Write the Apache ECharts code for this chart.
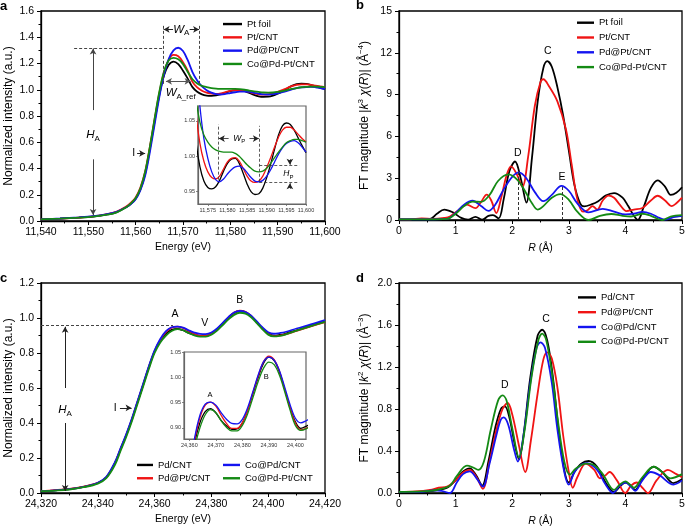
<!DOCTYPE html>
<html><head><meta charset="utf-8">
<script src="https://cdn.jsdelivr.net/npm/echarts/dist/echarts.min.js"></script>
<style>html,body{margin:0;padding:0;background:#fff}#c{width:685px;height:529px}</style>
</head><body><div id="c"></div>
<script>
// ---------- Panel a: Pt L3 XANES ----------
const energyA = [11540,11544,11548,11551,11554,11556,11558,11559,11560,11561,11562,11563,11564,11565,11566,11567,11568,11569,11570,11571,11572,11573,11574,11575,11576,11577,11578,11579,11580,11581,11582,11583,11584,11585,11586,11587,11588,11589,11590,11591,11592,11593,11594,11595,11596,11597,11598,11599,11600];
const aPtFoil = [.012,.018,.026,.034,.05,.068,.105,.13,.17,.24,.36,.55,.76,.96,1.11,1.19,1.215,1.195,1.145,1.085,1.02,.985,.965,.956,.954,.957,.966,.979,.99,.996,.997,.99,.976,.961,.95,.946,.947,.955,.97,.989,1.01,1.03,1.043,1.047,1.045,1.037,1.026,1.015,1.005];
const aPtCNT = [.012,.018,.026,.035,.052,.072,.11,.14,.18,.255,.375,.565,.775,.975,1.135,1.23,1.265,1.255,1.21,1.145,1.06,1.018,.993,.978,.97,.968,.972,.982,.992,.997,.998,.993,.983,.972,.965,.963,.965,.972,.984,.998,1.013,1.027,1.037,1.041,1.041,1.037,1.031,1.025,1.02];
const aPdPtCNT = [.012,.019,.028,.037,.053,.07,.105,.13,.165,.235,.345,.525,.735,.945,1.115,1.235,1.3,1.32,1.295,1.225,1.135,1.07,1.025,.997,.978,.967,.964,.968,.975,.981,.985,.986,.983,.977,.97,.965,.964,.966,.972,.981,.992,1.003,1.012,1.018,1.021,1.022,1.019,1.013,1.006];
const aCoPdPtCNT = [.012,.018,.025,.033,.048,.066,.105,.135,.175,.25,.375,.565,.78,.985,1.14,1.225,1.243,1.232,1.195,1.135,1.08,1.048,1.03,1.02,1.013,1.009,1.007,1.006,1.006,1.006,1.004,1.0,.994,.988,.983,.979,.978,.979,.983,.99,.998,1.006,1.013,1.019,1.022,1.024,1.024,1.022,1.02];

// ---------- Panel b: Pt L3 FT-EXAFS [R, magnitude] ----------
const bPtFoil = [[0,0.05],[0.3,0.05],[0.55,0.08],[0.67,0.45],[0.8,0.75],[0.95,0.55],[1.1,0.15],[1.22,0.03],[1.35,0.23],[1.47,0.02],[1.58,0.3],[1.66,0.35],[1.76,0.12],[1.85,1.5],[1.95,3.5],[2.05,4.2],[2.15,3.0],[2.25,1.25],[2.35,4.5],[2.45,8.5],[2.55,10.9],[2.62,11.4],[2.7,11.0],[2.8,9.5],[2.9,7.5],[3.0,5.0],[3.1,2.5],[3.2,1.2],[3.27,0.98],[3.4,1.12],[3.52,1.35],[3.65,1.75],[3.8,1.93],[3.95,1.6],[4.05,1.0],[4.15,0.3],[4.22,0.0],[4.32,0.9],[4.45,2.3],[4.57,2.85],[4.7,2.4],[4.8,1.8],[4.9,1.95],[5,2.35]];
const bPtCNT = [[0,0.05],[0.2,0.05],[0.4,0.12],[0.6,0.08],[0.8,0.15],[0.9,0.25],[1.05,0.7],[1.2,1.1],[1.35,0.85],[1.45,1.3],[1.55,1.82],[1.63,1.4],[1.72,0.5],[1.8,1.5],[1.9,3.2],[1.98,3.85],[2.08,3.3],[2.18,2.4],[2.28,4.5],[2.4,8.2],[2.5,9.9],[2.55,10.1],[2.65,9.6],[2.8,8.5],[2.95,6.5],[3.05,4.0],[3.15,1.5],[3.25,0.6],[3.33,0.7],[3.42,1.0],[3.5,0.75],[3.6,1.4],[3.7,1.75],[3.8,1.6],[3.9,1.1],[4.02,0.64],[4.15,0.75],[4.3,0.86],[4.45,1.4],[4.57,1.74],[4.7,1.4],[4.82,1.0],[4.9,1.2],[5,1.6]];
const bPdPtCNT = [[0,0.05],[0.5,0.05],[0.85,0.08],[1.0,0.5],[1.15,1.1],[1.3,1.38],[1.45,1.0],[1.58,0.65],[1.7,1.1],[1.85,2.2],[2.0,3.1],[2.12,3.42],[2.25,3.0],[2.4,2.0],[2.55,1.35],[2.7,1.8],[2.87,2.45],[3.0,2.1],[3.15,1.2],[3.35,0.55],[3.6,0.8],[3.8,0.6],[4.0,0.4],[4.15,0.45],[4.3,0.58],[4.45,0.45],[4.6,0.15],[4.7,0.02],[4.85,0.2],[5,0.3]];
const bCoPdPtCNT = [[0,0.05],[0.5,0.05],[0.85,0.08],[1.0,0.45],[1.15,1.0],[1.3,1.32],[1.45,1.3],[1.6,1.8],[1.75,2.8],[1.93,3.27],[2.1,2.85],[2.25,1.9],[2.35,1.2],[2.45,0.75],[2.55,1.0],[2.7,1.6],[2.85,1.86],[3.0,1.45],[3.15,0.6],[3.35,0.0],[3.55,0.3],[3.75,0.43],[3.95,0.3],[4.1,0.25],[4.3,0.45],[4.45,0.3],[4.65,0.0],[4.8,0.25],[5,0.35]];

// ---------- Panel c: Pd K XANES ----------
const energyC = [24320,24325,24330,24335,24340,24343,24346,24348,24350,24352,24354,24356,24358,24360,24362,24364,24366,24368,24370,24372,24374,24376,24378,24380,24382,24384,24386,24388,24390,24392,24394,24396,24398,24400,24402,24404,24406,24410,24415,24420];
const cPdCNT = [.01,.015,.022,.035,.057,.09,.17,.25,.33,.42,.52,.62,.72,.81,.87,.91,.932,.938,.93,.915,.904,.897,.898,.91,.935,.968,1.0,1.028,1.04,1.033,1.01,.975,.94,.912,.899,.903,.91,.93,.955,.98];
const cPdPtCNT = [.012,.017,.024,.037,.058,.09,.17,.25,.33,.42,.52,.62,.72,.81,.875,.92,.945,.951,.943,.925,.909,.899,.899,.91,.935,.97,1.003,1.031,1.042,1.035,1.012,.976,.94,.909,.896,.899,.906,.927,.952,.976];
const cCoPdCNT = [.01,.015,.022,.035,.058,.092,.175,.255,.335,.425,.525,.625,.725,.815,.88,.925,.947,.951,.945,.93,.917,.909,.908,.917,.94,.972,1.005,1.031,1.04,1.034,1.013,.98,.946,.919,.91,.914,.92,.94,.963,.988];
const cCoPdPtCNT = [.01,.014,.02,.033,.054,.085,.16,.24,.32,.41,.51,.61,.71,.8,.86,.9,.926,.936,.93,.914,.901,.894,.894,.905,.928,.96,.992,1.018,1.03,1.025,1.004,.971,.935,.905,.895,.898,.905,.928,.953,.978];

// ---------- Panel d: Pd K FT-EXAFS [R, magnitude] ----------
const dPdCNT = [[0,0.01],[0.3,0.01],[0.5,0.015],[0.7,0.03],[0.85,0.05],[1.0,0.12],[1.12,0.2],[1.25,0.235],[1.36,0.17],[1.47,0.07],[1.58,0.3],[1.7,0.62],[1.8,0.8],[1.87,0.825],[1.95,0.72],[2.05,0.45],[2.12,0.32],[2.2,0.55],[2.32,1.1],[2.45,1.5],[2.53,1.555],[2.62,1.45],[2.72,1.1],[2.82,0.6],[2.92,0.22],[3.0,0.1],[3.1,0.2],[3.22,0.28],[3.35,0.305],[3.5,0.25],[3.65,0.1],[3.8,0.01],[3.9,0.06],[4.0,0.1],[4.1,0.07],[4.17,0.03],[4.3,0.13],[4.5,0.25],[4.65,0.2],[4.85,0.095],[5,0.13]];
const dPdPtCNT = [[0,0.01],[0.3,0.015],[0.55,0.03],[0.7,0.05],[0.85,0.06],[1.0,0.12],[1.12,0.19],[1.25,0.22],[1.37,0.15],[1.48,0.04],[1.6,0.3],[1.72,0.6],[1.83,0.8],[1.92,0.857],[2.0,0.75],[2.12,0.45],[2.23,0.2],[2.33,0.5],[2.45,0.95],[2.55,1.27],[2.62,1.34],[2.7,1.28],[2.8,1.0],[2.9,0.55],[3.0,0.2],[3.07,0.05],[3.15,0.15],[3.3,0.28],[3.45,0.22],[3.55,0.14],[3.65,0.17],[3.72,0.2],[3.85,0.12],[4.0,0.0],[4.1,0.07],[4.2,0.1],[4.3,0.05],[4.4,0.0],[4.55,0.12],[4.75,0.22],[4.9,0.18],[5,0.15]];
const dCoPdCNT = [[0,0.01],[0.4,0.01],[0.6,0.025],[0.75,0.02],[0.9,0.0],[1.02,0.1],[1.13,0.18],[1.25,0.206],[1.37,0.14],[1.48,0.06],[1.6,0.28],[1.72,0.55],[1.8,0.7],[1.85,0.72],[1.93,0.65],[2.03,0.42],[2.1,0.3],[2.2,0.55],[2.32,1.05],[2.43,1.38],[2.5,1.435],[2.58,1.38],[2.7,1.05],[2.8,0.6],[2.92,0.2],[3.0,0.08],[3.1,0.2],[3.22,0.27],[3.32,0.285],[3.5,0.22],[3.65,0.08],[3.78,0.0],[3.9,0.07],[4.0,0.1],[4.1,0.06],[4.17,0.02],[4.3,0.12],[4.45,0.2],[4.6,0.17],[4.85,0.08],[5,0.12]];
const dCoPdPtCNT = [[0,0.01],[0.4,0.015],[0.55,0.02],[0.75,0.04],[0.9,0.07],[1.02,0.16],[1.2,0.26],[1.3,0.245],[1.4,0.22],[1.5,0.3],[1.62,0.6],[1.75,0.88],[1.83,0.93],[1.9,0.88],[2.0,0.62],[2.12,0.34],[2.22,0.6],[2.34,1.1],[2.46,1.45],[2.53,1.517],[2.6,1.46],[2.7,1.15],[2.8,0.72],[2.92,0.3],[3.02,0.175],[3.12,0.23],[3.3,0.28],[3.45,0.265],[3.6,0.18],[3.8,0.03],[3.9,0.08],[4.0,0.11],[4.08,0.08],[4.15,0.05],[4.3,0.15],[4.5,0.25],[4.65,0.2],[4.8,0.14],[5,0.18]];

// ---------- tick labels ----------
const insetATicksX = [11575,11580,11585,11590,11595,11600];
const insetATicksY = [0.95,1.00,1.05];
const insetCTicksX = [24360,24370,24380,24390,24400];
const insetCTicksY = [0.90,0.95,1.00,1.05];

// ---------- styling ----------
const FF = "'Liberation Sans', Arial, Helvetica, sans-serif";
const BLACK='#000000', RED='#f01414', BLUE='#1414f0', GREEN='#148a14';
const comma = v => String(Math.round(v)).replace(/\B(?=(\d{3})+(?!\d))/g, ',');

function rich(sz){
  return {
    n:{fontSize:sz, fontFamily:FF, color:'#000', lineHeight:sz+4},
    i:{fontSize:sz, fontFamily:FF, color:'#000', fontStyle:'italic', lineHeight:sz+4},
    s:{fontSize:Math.round(sz*0.68), fontFamily:FF, color:'#000', verticalAlign:'bottom', lineHeight:Math.round(sz*0.7)},
    sup:{fontSize:Math.round(sz*0.68), fontFamily:FF, color:'#000', verticalAlign:'top', lineHeight:Math.round(sz*0.7)}
  };
}

function mainX(gi, min, max, interval, name, fmt){
  return {gridIndex:gi, type:'value', min, max, interval,
    axisLine:{show:true, onZero:false, lineStyle:{color:'#000', width:1.3}},
    axisTick:{show:true, length:4, lineStyle:{color:'#000', width:1}},
    minorTick:{show:true, splitNumber:2, length:2.5, lineStyle:{color:'#000', width:1}},
    splitLine:{show:false}, minorSplitLine:{show:false},
    axisLabel:{color:'#000', fontSize:10.5, fontFamily:FF, margin:6, formatter:fmt},
    name, nameLocation:'middle', nameGap:21,
    nameTextStyle:{color:'#000', fontSize:10.5, fontFamily:FF, rich:rich(10.5)}};
}
function mainY(gi, min, max, interval, name, fmt){
  return {gridIndex:gi, type:'value', min, max, interval,
    axisLine:{show:true, onZero:false, lineStyle:{color:'#000', width:1.3}},
    axisTick:{show:true, length:4, lineStyle:{color:'#000', width:1}},
    minorTick:{show:true, splitNumber:2, length:2.5, lineStyle:{color:'#000', width:1}},
    splitLine:{show:false}, minorSplitLine:{show:false},
    axisLabel:{color:'#000', fontSize:10.5, fontFamily:FF, margin:7, formatter:fmt},
    name, nameLocation:'middle', nameGap:26,
    nameTextStyle:{color:'#000', fontSize:12, fontFamily:FF, rich:rich(12)}};
}
function insetAxis(gi, min, max, ticks, fmt){
  return {gridIndex:gi, type:'value', min, max,
    axisLine:{show:true, onZero:false, lineStyle:{color:'#666', width:1.2}},
    axisTick:{show:true, length:2, customValues:ticks, lineStyle:{color:'#666', width:0.8}},
    splitLine:{show:false},
    axisLabel:{color:'#333', fontSize:5.5, fontFamily:FF, margin:3, customValues:ticks, formatter:fmt}};
}

function line(name, color, data, ai, w){
  return {type:'line', name, xAxisIndex:ai, yAxisIndex:ai, data, color,
    showSymbol:false, symbol:'none', smooth:0.35, clip:true, silent:true,
    lineStyle:{color, width:w}, z:3};
}
function pairs(xs, ys){ return xs.map((x,i)=>[x, ys[i]]); }

function annot(ai, segs, texts){
  return {type:'line', xAxisIndex:ai, yAxisIndex:ai, data:[], silent:true, z:6,
    markLine:{silent:true, animation:false, symbolSize:[5,6], label:{show:false},
      data: segs.map(s=>[
        {coord:s.a, symbol:s.sa?'arrow':'none', lineStyle:{type:s.dash?[3,2]:'solid', color:s.c||'#222', width:s.w||1}},
        {coord:s.b, symbol:s.sb?'arrow':'none', lineStyle:{type:s.dash?[3,2]:'solid', color:s.c||'#222', width:s.w||1}}
      ])},
    markPoint:{silent:true, animation:false, symbol:'rect', symbolSize:0.1, itemStyle:{color:'rgba(0,0,0,0)'},
      data: texts.map(t=>({coord:t.p, label:{show:true, position:'inside', formatter:t.s, color:'#000', fontSize:t.f||10.5, fontFamily:FF, rich:rich(t.f||10.5)}}))}
  };
}

const gridBase = {show:true, borderColor:'#000', borderWidth:1.3, backgroundColor:'rgba(0,0,0,0)', containLabel:false, outerBoundsMode:'none'};
const insetBase = {show:true, borderColor:'#666', borderWidth:1.2, backgroundColor:'#fff', containLabel:false, outerBoundsMode:'none'};

const legendBase = {orient:'vertical', icon:'rect', itemHeight:2.4, itemGap:0, padding:0, selectedMode:false,
  textStyle:{fontSize:9.5, fontFamily:FF, color:'#000'}};
const li = (name,color)=>({name, itemStyle:{color}});
const lt = lh => Object.assign({}, legendBase.textStyle, {lineHeight:lh});

const option = {
  animation:false,
  backgroundColor:'#fff',
  grid:[
    Object.assign({left:41, top:11, width:284, height:210}, gridBase),
    Object.assign({left:198, top:106, width:108, height:98}, insetBase),
    Object.assign({left:399, top:11, width:283, height:209}, gridBase),
    Object.assign({left:41, top:283, width:284, height:210}, gridBase),
    Object.assign({left:184, top:352, width:122, height:87}, insetBase),
    Object.assign({left:399, top:283, width:283, height:210}, gridBase)
  ],
  xAxis:[
    mainX(0, 11540, 11600, 10, 'Energy (eV)', comma),
    insetAxis(1, 11572.5, 11600, insetATicksX, comma),
    mainX(2, 0, 5, 1, '{i|R}{n| (Å)}', v=>String(v)),
    mainX(3, 24320, 24420, 20, 'Energy (eV)', comma),
    insetAxis(4, 24358, 24404, insetCTicksX, comma),
    mainX(5, 0, 5, 1, '{i|R}{n| (Å)}', v=>String(v))
  ],
  yAxis:[
    mainY(0, 0, 1.6, 0.2, 'Normalized intensity (a.u.)', v=>v.toFixed(1)),
    insetAxis(1, 0.9326, 1.071, insetATicksY, v=>v.toFixed(2)),
    mainY(2, 0, 15, 3, '{n|FT magnitude |}{i|k}{sup|3}{i| χ}{n|(}{i|R}{n|)| (Å}{sup|−4}{n|)}', v=>String(v)),
    mainY(3, 0, 1.2, 0.2, 'Normalized intensity (a.u.)', v=>v.toFixed(1)),
    insetAxis(4, 0.878, 1.05, insetCTicksY, v=>v.toFixed(2)),
    mainY(5, 0, 2, 0.4, '{n|FT magnitude |}{i|k}{sup|2}{i| χ}{n|(}{i|R}{n|)| (Å}{sup|−3}{n|)}', v=>v.toFixed(1))
  ],
  legend:[
    Object.assign({}, legendBase, {left:223, top:17.4, itemWidth:19, textStyle:lt(13.3), data:[li('Pt foil',BLACK),li('Pt/CNT',RED),li('Pd@Pt/CNT',BLUE),li('Co@Pd-Pt/CNT',GREEN)]}),
    Object.assign({}, legendBase, {left:577, top:15.3, itemWidth:17, textStyle:lt(14.8), data:[li('Pt foil',BLACK),li('Pt/CNT',RED),li('Pd@Pt/CNT',BLUE),li('Co@Pd-Pt/CNT',GREEN)]}),
    Object.assign({}, legendBase, {left:137, top:458.3, itemWidth:16, textStyle:lt(13.3), data:[li('Pd/CNT',BLACK),li('Pd@Pt/CNT',RED)]}),
    Object.assign({}, legendBase, {left:223, top:458.3, itemWidth:17, textStyle:lt(13.3), data:[li('Co@Pd/CNT',BLUE),li('Co@Pd-Pt/CNT',GREEN)]}),
    Object.assign({}, legendBase, {left:578, top:290, itemWidth:18, textStyle:lt(14.8), data:[li('Pd/CNT',BLACK),li('Pd@Pt/CNT',RED),li('Co@Pd/CNT',BLUE),li('Co@Pd-Pt/CNT',GREEN)]})
  ],
  graphic:[
    {type:'text', left:0, top:0, style:{text:'a', font:"bold 13px "+FF, fill:'#000'}},
    {type:'text', left:356, top:-1, style:{text:'b', font:"bold 13px "+FF, fill:'#000'}},
    {type:'text', left:0, top:272, style:{text:'c', font:"bold 13px "+FF, fill:'#000'}},
    {type:'text', left:356, top:272, style:{text:'d', font:"bold 13px "+FF, fill:'#000'}}
  ],
  series:[
    line('Pt foil', BLACK, pairs(energyA, aPtFoil), 0, 1.8),
    line('Pt/CNT', RED, pairs(energyA, aPtCNT), 0, 1.8),
    line('Pd@Pt/CNT', BLUE, pairs(energyA, aPdPtCNT), 0, 1.8),
    line('Co@Pd-Pt/CNT', GREEN, pairs(energyA, aCoPdPtCNT), 0, 1.8),
    line('Pt foil', BLACK, pairs(energyA, aPtFoil), 1, 1.3),
    line('Pt/CNT', RED, pairs(energyA, aPtCNT), 1, 1.3),
    line('Pd@Pt/CNT', BLUE, pairs(energyA, aPdPtCNT), 1, 1.3),
    line('Co@Pd-Pt/CNT', GREEN, pairs(energyA, aCoPdPtCNT), 1, 1.3),
    line('Pt foil', BLACK, bPtFoil, 2, 1.8),
    line('Pt/CNT', RED, bPtCNT, 2, 1.8),
    line('Pd@Pt/CNT', BLUE, bPdPtCNT, 2, 1.8),
    line('Co@Pd-Pt/CNT', GREEN, bCoPdPtCNT, 2, 1.8),
    line('Pd/CNT', BLACK, pairs(energyC, cPdCNT), 3, 1.8),
    line('Pd@Pt/CNT', RED, pairs(energyC, cPdPtCNT), 3, 1.8),
    line('Co@Pd/CNT', BLUE, pairs(energyC, cCoPdCNT), 3, 1.8),
    line('Co@Pd-Pt/CNT', GREEN, pairs(energyC, cCoPdPtCNT), 3, 1.8),
    line('Pd/CNT', BLACK, pairs(energyC, cPdCNT), 4, 1.3),
    line('Pd@Pt/CNT', RED, pairs(energyC, cPdPtCNT), 4, 1.3),
    line('Co@Pd/CNT', BLUE, pairs(energyC, cCoPdCNT), 4, 1.3),
    line('Co@Pd-Pt/CNT', GREEN, pairs(energyC, cCoPdPtCNT), 4, 1.3),
    line('Pd/CNT', BLACK, dPdCNT, 5, 1.8),
    line('Pd@Pt/CNT', RED, dPdPtCNT, 5, 1.8),
    line('Co@Pd/CNT', BLUE, dCoPdCNT, 5, 1.8),
    line('Co@Pd-Pt/CNT', GREEN, dCoPdPtCNT, 5, 1.8),
    annot(0, [
      {a:[11547,1.32], b:[11565.8,1.32], dash:true, c:'#444'},
      {a:[11551,0.845], b:[11551,1.315], sb:true, c:'#444'},
      {a:[11551,0.47], b:[11551,0.045], sb:true, c:'#444'},
      {a:[11560.3,0.515], b:[11562.0,0.515], sb:true},
      {a:[11565.85,1.045], b:[11565.85,1.49], dash:true, c:'#444'},
      {a:[11573.45,1.045], b:[11573.45,1.49], dash:true, c:'#444'},
      {a:[11567.9,1.46], b:[11565.9,1.46], sb:true},
      {a:[11571.4,1.46], b:[11573.4,1.46], sb:true},
      {a:[11566.4,1.064], b:[11571.6,1.064], sa:true, sb:true, c:'#555'}
    ], [
      {p:[11551,0.655], s:'{i|H}{s|A}', f:11.5},
      {p:[11559.6,0.515], s:'I', f:10.5},
      {p:[11569.65,1.46], s:'{i|W}{s|A}', f:11.5},
      {p:[11569.5,0.975], s:'{i|W}{s|A_ref}', f:11.5}
    ]),
    annot(1, [
      {a:[11577.7,0.967], b:[11577.7,1.045], dash:true, c:'#333', w:0.8},
      {a:[11588.1,0.964], b:[11588.1,1.043], dash:true, c:'#333', w:0.8},
      {a:[11580.3,1.025], b:[11577.8,1.025], sb:true, w:0.8},
      {a:[11585.6,1.025], b:[11588.0,1.025], sb:true, w:0.8},
      {a:[11588.1,0.987], b:[11598.3,0.987], dash:true, c:'#333', w:0.8},
      {a:[11588.1,0.963], b:[11598.3,0.963], dash:true, c:'#333', w:0.8},
      {a:[11595.9,0.996], b:[11595.9,0.988], sb:true, w:0.7},
      {a:[11595.9,0.954], b:[11595.9,0.962], sb:true, w:0.7}
    ], [
      {p:[11583,1.025], s:'{i|W}{s|P}', f:8.5},
      {p:[11595.5,0.975], s:'{i|H}{s|P}', f:8.5}
    ]),
    annot(2, [
      {a:[2.1,0], b:[2.1,3.55], dash:true, c:'#333'},
      {a:[2.88,0], b:[2.88,2.4], dash:true, c:'#333'}
    ], [
      {p:[2.63,12.1], s:'C'}, {p:[2.1,4.8], s:'D'}, {p:[2.88,3.05], s:'E'}
    ]),
    annot(3, [
      {a:[24320,0.956], b:[24366.5,0.956], dash:true, c:'#444'},
      {a:[24328.5,0.6], b:[24328.5,0.95], sb:true},
      {a:[24328.5,0.4], b:[24328.5,0.012], sb:true},
      {a:[24347.8,0.486], b:[24351.9,0.486], sb:true}
    ], [
      {p:[24328.5,0.475], s:'{i|H}{s|A}', f:11.5},
      {p:[24346.1,0.486], s:'I'},
      {p:[24367.2,1.02], s:'A'}, {p:[24377.7,0.97], s:'V'}, {p:[24390,1.105], s:'B'}
    ]),
    annot(4, [], [
      {p:[24367.8,0.966], s:'A', f:7.5}, {p:[24389,1.0], s:'B', f:7.5}
    ]),
    annot(5, [], [
      {p:[2.6,1.66], s:'C'}, {p:[1.87,1.03], s:'D'}
    ])
  ]
};

const chart = echarts.init(document.getElementById('c'), null, {renderer:'canvas'});
chart.setOption(option);
</script></body></html>
